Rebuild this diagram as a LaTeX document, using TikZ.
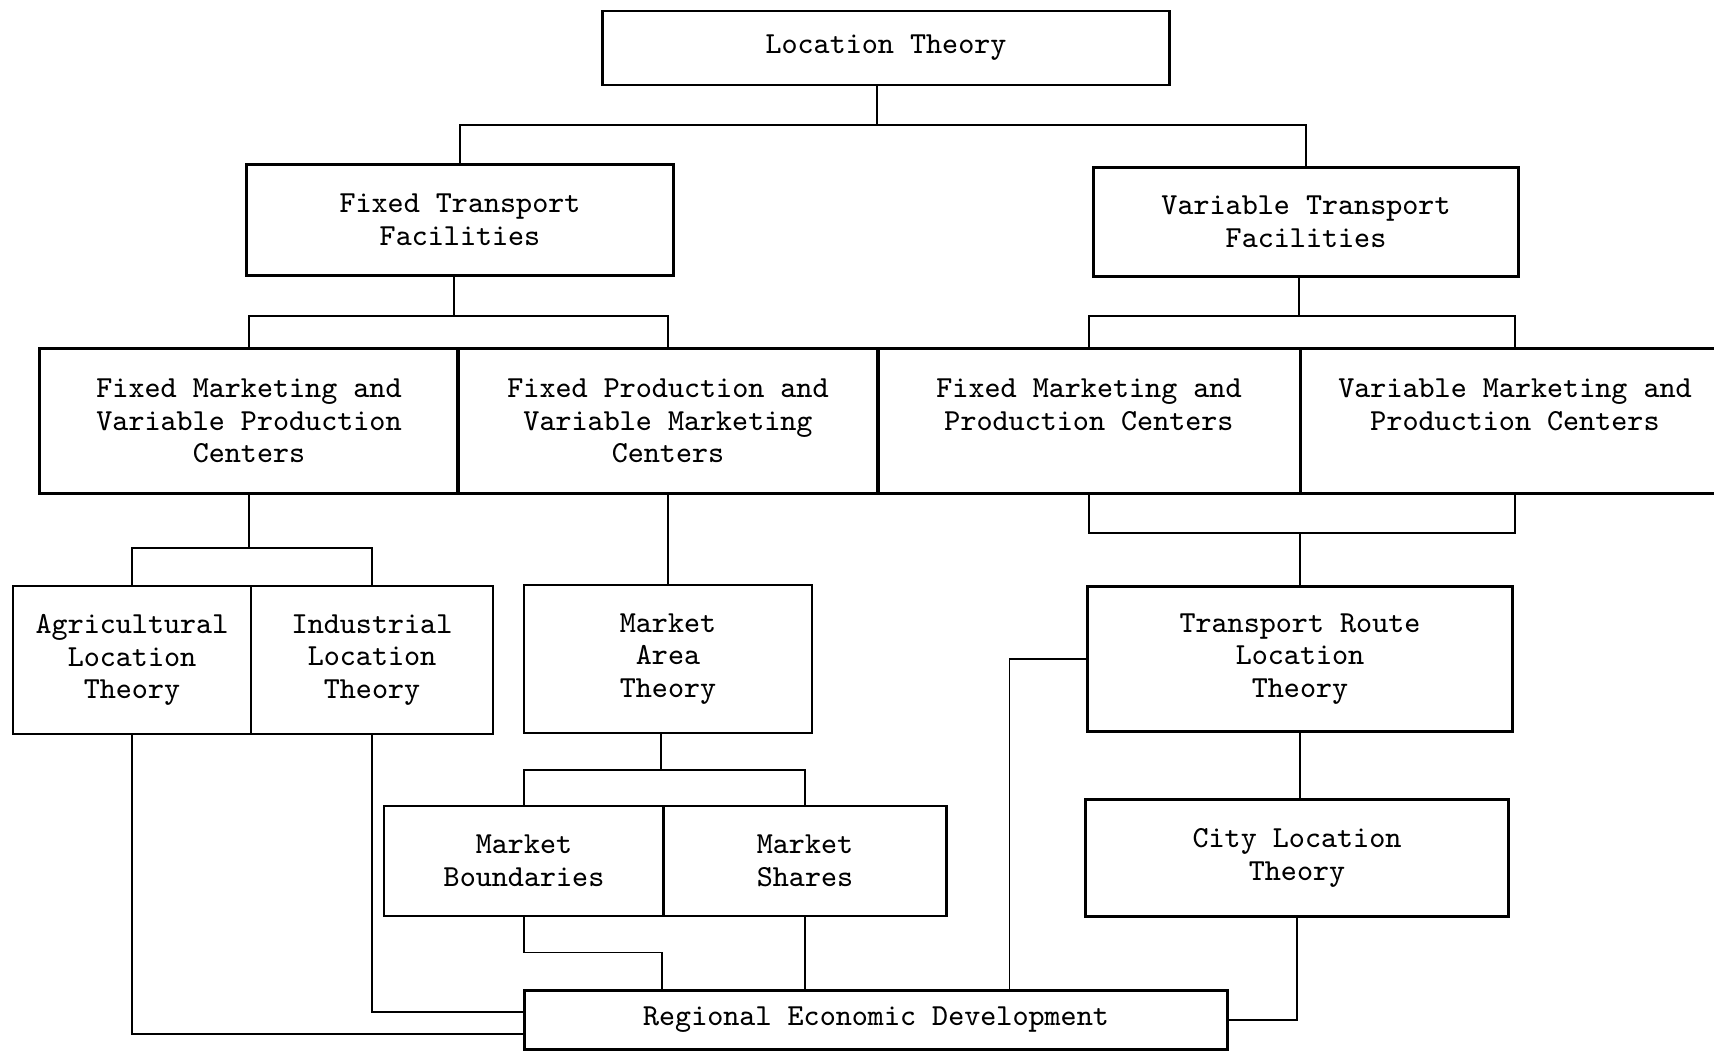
\documentclass[tikz,border=0pt]{standalone}
\usepackage{fontspec}
\usepackage{tikz}
\usetikzlibrary{calc}

\begin{document}
\begin{tikzpicture}[x=0.01cm,y=-0.01cm,
	box/.style={draw,line width=0.8pt,align=center,inner sep=0pt,font=\ttfamily\fontsize{8.7}{9.3}\selectfont},
	link/.style={line width=0.5pt}]
			\useasboundingbox (0,0) rectangle (1714,1054);
			\clip (0,0) rectangle (1714,1054);

			\node[box,minimum width=5.67cm,minimum height=0.74cm] (loc) at (886,48) {Location Theory};

			\node[box,minimum width=4.26cm,minimum height=1.11cm] (ftf) at (460,220) {Fixed Transport\\Facilities};
			\node[box,minimum width=4.25cm,minimum height=1.09cm] (vtf) at (1306,222) {Variable Transport\\Facilities};

			\node[box,minimum width=4.19cm,minimum height=1.45cm] (fmvp) at (249,421) {Fixed Marketing and\\Variable Production\\Centers};
			\node[box,minimum width=4.20cm,minimum height=1.45cm] (fpvm) at (668,421) {Fixed Production and\\Variable Marketing\\Centers};
			\node[box,minimum width=4.23cm,minimum height=1.45cm] (fmpc) at (1089,421) {Fixed Marketing and\\Production Centers\\\mbox{}};
			\node[box,minimum width=4.29cm,minimum height=1.45cm] (vmpc) at (1515,421) {Variable Marketing and\\Production Centers\\\mbox{}};

			\node[box,minimum width=2.38cm,minimum height=1.48cm] (agr) at (132,660) {Agricultural\\Location\\Theory};
			\node[box,minimum width=2.42cm,minimum height=1.48cm] (ind) at (372,660) {Industrial\\Location\\Theory};
			\node[box,minimum width=2.88cm,minimum height=1.48cm] (mat) at (668,659) {Market\\Area\\Theory};
			\node[box,minimum width=4.24cm,minimum height=1.45cm] (trl) at (1300,659) {Transport Route\\Location\\Theory};

			\node[box,minimum width=2.80cm,minimum height=1.10cm] (mb) at (524,861) {Market\\Boundaries};
			\node[box,minimum width=2.83cm,minimum height=1.10cm] (ms) at (805,861) {Market\\Shares};
			\node[box,minimum width=4.23cm,minimum height=1.17cm] (cl) at (1297,858) {City Location\\Theory};

			\node[box,minimum width=7.03cm,minimum height=0.59cm] (red) at (876,1020) {Regional Economic Development};

			\coordinate (split0) at (877,125);
			\draw[link] (loc.south -| split0) -- (split0);
			\draw[link] (ftf.north) |- (split0) -| (vtf.north);

			\coordinate (split1) at (454,316);
			\draw[link] (ftf.south -| split1) -- (split1);
			\draw[link] (fmvp.north) |- (split1) -| (fpvm.north);

			\coordinate (split2) at (1299,316);
			\draw[link] (vtf.south -| split2) -- (split2);
			\draw[link] (fmpc.north) |- (split2) -| (vmpc.north);

			\coordinate (split3) at (249,548);
			\draw[link] (fmvp.south) -- (split3);
			\draw[link] (agr.north) |- (split3) -| (ind.north);

			\draw[link] (fpvm.south) -- (mat.north);

			\coordinate (split4) at (1300,533);
			\draw[link] (fmpc.south) |- (split4) -| (vmpc.south);
			\draw[link] (split4) -- (trl.north);

			\coordinate (split5) at (661,770);
			\draw[link] (mat.south -| split5) -- (split5);
			\draw[link] (mb.north) |- (split5) -| (ms.north);

			\draw[link] (trl.south) -- (trl.south |- cl.north);

			\draw[link] (agr.south) |- ($(red.west)+(0,14)$);
			\draw[link] (ind.south) |- ($(red.west)+(0,-8)$);
			\draw[link] (mb.south) -- ++(0,35) -| (red.north -| ms.west);
			\draw[link] (ms.south) -- (ms.south |- red.north);
			\draw[link] (trl.west) -| ($(trl.west |- red.north)+(-77,0)$);
			\draw[link] (cl.south) |- (red.east);
		\end{tikzpicture}
\end{document}
